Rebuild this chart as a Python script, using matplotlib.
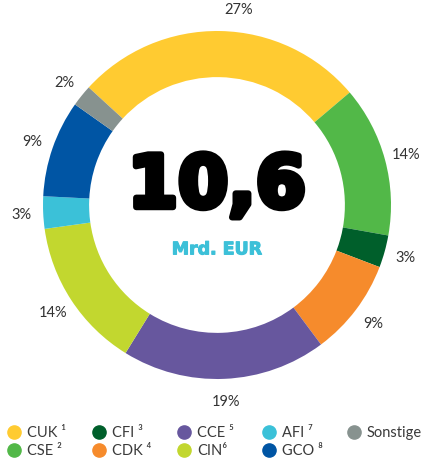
import matplotlib
matplotlib.use('Agg')
import matplotlib.pyplot as plt
import matplotlib.patheffects as pe

## Data.
labels = ['CUK', 'CSE', 'CFI', 'CDK', 'CCE', 'CIN', 'AFI', 'GCO', 'Sonstige']
legend_labels = ['CUK \u00b9', 'CSE \u00b2', 'CFI \u00b3', 'CDK \u2074', 'CCE \u2075',
                 'CIN\u2076', 'AFI \u2077', 'GCO \u2078', 'Sonstige']
shares = [27, 14, 3, 9, 19, 14, 3, 9, 2]
colors = ['#FFCB31', '#52B848', '#005F2B', '#F68B2C', '#67579E',
          '#C2D72F', '#3BC1D8', '#0055A4', '#87928F']
total_text = '10,6'
unit_text = 'Mrd. EUR'

plt.rcParams['font.family'] = ['Lato', 'DejaVu Sans']

W, H, DPI = 423, 460, 100
fig = plt.figure(figsize=(W / DPI, H / DPI), dpi=DPI)

## Axes covering the whole figure, 1 data unit = outer radius in px.
R = 174.0
cx, cy = 217.0, 206.0
ax = fig.add_axes([0, 0, 1, 1])
wedges, texts = ax.pie(shares, colors=colors, startangle=137.5,
                       counterclock=False, radius=1.0,
                       wedgeprops=dict(width=0.265, linewidth=0),
                       labels=[f'{s}%' for s in shares], labeldistance=1.125,
                       textprops=dict(color='#333333', fontsize=10.5,
                                      ha='center', va='center'))
for t in texts:
    t.set_horizontalalignment('center')
## The top label sits a little right of the slice middle in the reference.
tx, ty = texts[0].get_position()
texts[0].set_position((tx + 0.1, ty))
ax.set_aspect('auto')
ax.set_xlim(-cx / R, (W - cx) / R)
ax.set_ylim(-(H - cy) / R, cy / R)
ax.axis('off')

## Centre text.
ax.text(0, 0.1, total_text, ha='center', va='center', fontsize=52,
        family='DejaVu Sans', fontweight='bold', color='black',
        path_effects=[pe.withStroke(linewidth=4.5, foreground='black')])
ax.text(0, -0.255, unit_text, ha='center', va='center', fontsize=12.5,
        family='DejaVu Sans', fontweight='bold', color='#3CC0D8',
        path_effects=[pe.withStroke(linewidth=0.8, foreground='#3CC0D8')])

## Legend, two rows, filled column by column.
x0, dx = 14, 85
rows_y = [433, 451]
for i, (name, col) in enumerate(zip(legend_labels, colors)):
    c = i // 2
    r = i % 2
    x = x0 + c * dx
    y = rows_y[r]
    fig.add_artist(plt.Line2D([x / W], [1 - y / H], marker='o', markersize=9.5,
                              color=col, linestyle='none',
                              transform=fig.transFigure))
    fig.text((x + 13) / W, 1 - y / H, name, ha='left', va='center',
             fontsize=10.5, color='#3a3a3a')

fig.savefig('out.png', dpi=DPI)
